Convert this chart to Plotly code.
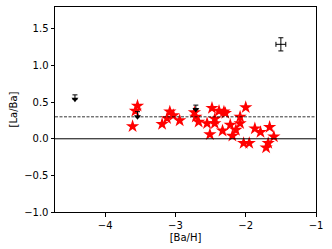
import plotly.graph_objects as go

# [Ba/H] vs [La/Ba] stars
ba_h = [-3.61, -3.57, -3.54, -3.19, -3.12, -3.08, -3.03, -2.94, -2.73, -2.71,
        -2.67, -2.55, -2.51, -2.48, -2.44, -2.44, -2.38, -2.33, -2.31, -2.29,
        -2.22, -2.19, -2.14, -2.08, -2.08, -2.00, -2.03, -1.95, -1.87, -1.79,
        -1.71, -1.68, -1.66, -1.60]
la_ba = [0.17, 0.38, 0.45, 0.20, 0.28, 0.37, 0.32, 0.25, 0.36, 0.30,
         0.23, 0.21, 0.06, 0.42, 0.27, 0.21, 0.38, 0.11, 0.37, 0.35,
         0.19, 0.04, 0.12, 0.30, 0.21, 0.43, -0.06, -0.06, 0.14, 0.09,
         -0.12, -0.06, 0.16, 0.03]

# upper limits
lim_x = [-4.43, -3.54, -2.71]
lim_y = [0.54, 0.30, 0.40]
lim_err = [0.06, 0.07, 0.06]

# typical error bar
err_x = [-1.50]
err_y = [1.29]
err_dx = [0.07]
err_dy = [0.09]

solar_ratio = 0.3

fig = go.Figure()

fig.add_hline(y=0, line=dict(color='black', width=1))
fig.add_hline(y=solar_ratio, line=dict(color='black', width=0.8, dash='3px,1.5px'))

fig.add_trace(go.Scatter(x=ba_h, y=la_ba, mode='markers',
                         marker=dict(symbol='star', size=10, color='red',
                                     line=dict(width=0))))

fig.add_trace(go.Scatter(x=lim_x, y=lim_y, mode='markers',
                         marker=dict(symbol='triangle-down', size=6, color='black'),
                         error_y=dict(type='data', symmetric=False, array=lim_err,
                                      arrayminus=[0] * len(lim_err), color='black',
                                      thickness=1, width=2.5)))

fig.add_trace(go.Scatter(x=err_x, y=err_y, mode='markers',
                         marker=dict(size=1, color='black'),
                         error_x=dict(type='data', array=err_dx, color='black',
                                      thickness=1, width=2.5),
                         error_y=dict(type='data', array=err_dy, color='black',
                                      thickness=1, width=2.5)))

axis_style = dict(showline=True, linecolor='black', linewidth=1, mirror=True,
                  ticks='outside', ticklen=3.5, tickcolor='black', showgrid=False,
                  zeroline=False, automargin=False,
                  tickfont=dict(size=10, color='black'))

fig.update_xaxes(range=[-4.714, -1], tickvals=[-4, -3, -2, -1],
                 title=dict(text='[Ba/H]', font=dict(size=10, color='black'), standoff=4),
                 **axis_style)
fig.update_yaxes(range=[-1, 1.8], tickvals=[-1.0, -0.5, 0.0, 0.5, 1.0, 1.5],
                 tickformat='.1f',
                 title=dict(text='[La/Ba]', font=dict(size=10, color='black'), standoff=4),
                 **axis_style)

fig.update_layout(width=332, height=249, showlegend=False,
                  margin=dict(l=55, r=16, t=7, b=37),
                  plot_bgcolor='white', paper_bgcolor='white',
                  font=dict(family='DejaVu Sans', color='black'))

fig.write_html("out.html", config={'displayModeBar': False},
               post_script="document.body.style.margin='0';")
